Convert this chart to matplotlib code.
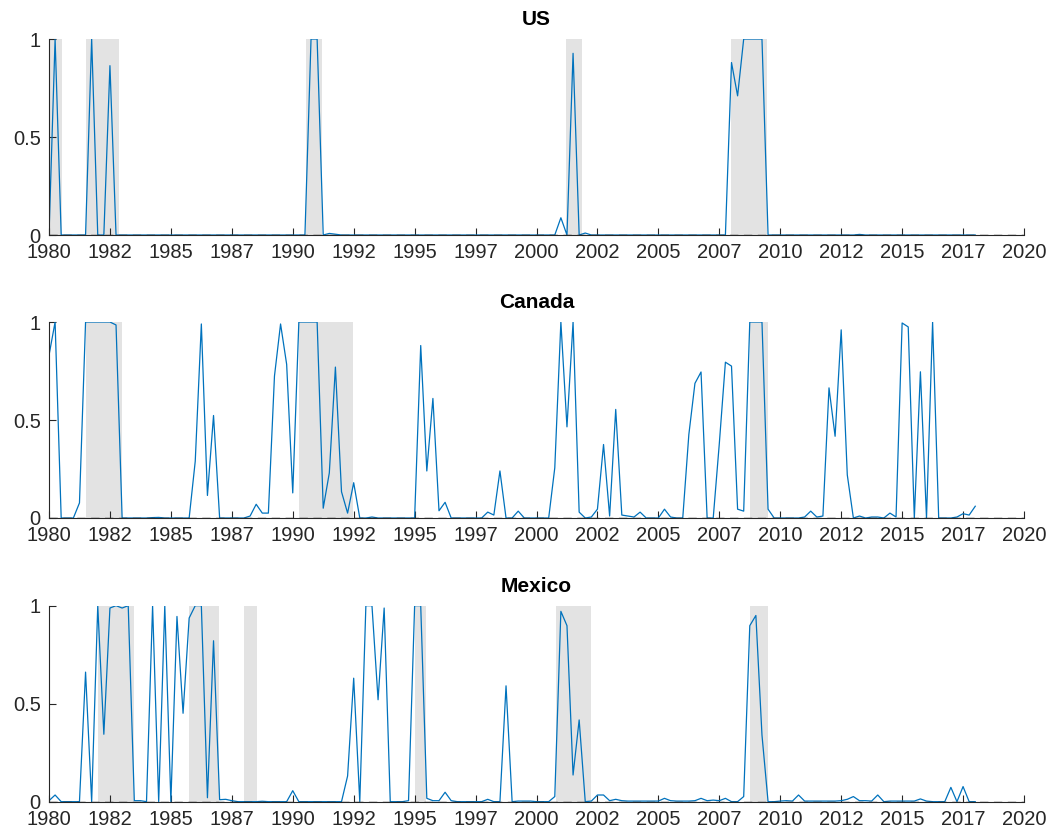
import numpy as np
import matplotlib
matplotlib.use('Agg')
import matplotlib.pyplot as plt

plt.rcParams['font.family'] = ['Liberation Sans', 'DejaVu Sans']

# quarterly probabilities, 1980Q1 .. 2018Q1
us = [0, 1.0, 0, 0, 0, 0, 0, 1.0, 0, 0,
      0.864, 0, 0, 0, 0, 0, 0, 0, 0, 0,
      0, 0, 0, 0, 0, 0, 0, 0, 0, 0,
      0, 0, 0, 0, 0, 0, 0, 0, 0, 0,
      0, 0, 0, 1.0, 1.0, 0, 0.008, 0.004, 0, 0,
      0, 0, 0, 0, 0, 0, 0, 0, 0, 0,
      0, 0, 0, 0, 0, 0, 0, 0, 0, 0,
      0, 0, 0, 0, 0, 0, 0, 0, 0, 0,
      0, 0, 0, 0, 0.088, 0, 0.927, 0, 0.01, 0,
      0, 0, 0, 0, 0, 0, 0, 0, 0, 0,
      0, 0, 0, 0, 0, 0, 0, 0, 0, 0,
      0, 0, 0.88, 0.71, 1.0, 1.0, 1.0, 1.0, 0, 0,
      0, 0, 0, 0, 0, 0, 0, 0, 0, 0,
      0, 0, 0, 0.003, 0, 0, 0, 0, 0, 0,
      0, 0, 0, 0, 0, 0, 0, 0, 0, 0,
      0, 0, 0]

canada = [0.83, 1.0, 0, 0, 0, 0.077, 1.0, 1.0, 1.0, 1.0,
          1.0, 0.985, 0, 0, 0, 0, 0, 0.002, 0.003, 0,
          0, 0, 0, 0, 0.29, 0.99, 0.115, 0.523, 0, 0,
          0, 0, 0, 0.01, 0.07, 0.025, 0.025, 0.724, 0.99, 0.784,
          0.128, 1.0, 1.0, 1.0, 1.0, 0.05, 0.23, 0.77, 0.134, 0.025,
          0.18, 0, 0, 0.005, 0, 0, 0, 0, 0, 0,
          0, 0.88, 0.24, 0.61, 0.037, 0.08, 0, 0, 0, 0,
          0, 0, 0.03, 0.015, 0.24, 0, 0, 0.035, 0, 0,
          0, 0, 0, 0.256, 1.0, 0.465, 1.0, 0.03, 0, 0.005,
          0.045, 0.375, 0.01, 0.554, 0.015, 0.01, 0.005, 0.03, 0, 0,
          0, 0.045, 0.005, 0, 0, 0.426, 0.687, 0.745, 0, 0,
          0.38, 0.795, 0.775, 0.045, 0.035, 1.0, 1.0, 1.0, 0.045, 0,
          0, 0, 0, 0, 0.005, 0.035, 0.005, 0.01, 0.664, 0.417,
          0.96, 0.22, 0, 0.01, 0, 0.005, 0.005, 0, 0.025, 0.005,
          0.995, 0.975, 0, 0.746, 0, 1.0, 0, 0, 0, 0.005,
          0.022, 0.015, 0.06]

mexico = [0.005, 0.034, 0, 0, 0, 0, 0.661, 0, 1.0, 0.344,
          0.988, 1.0, 0.988, 1.0, 0.005, 0.005, 0, 1.0, 0, 1.0,
          0, 0.945, 0.451, 0.937, 1.0, 1.0, 0.02, 0.821, 0.01, 0.012,
          0.005, 0, 0, 0, 0, 0.002, 0, 0, 0, 0,
          0.056, 0, 0, 0, 0, 0, 0, 0, 0, 0.131,
          0.63, 0, 1.0, 1.0, 0.52, 0.988, 0, 0, 0, 0.005,
          1.0, 1.0, 0.017, 0.005, 0.005, 0.048, 0.005, 0, 0, 0,
          0, 0, 0.012, 0, 0, 0.591, 0, 0.003, 0.003, 0.003,
          0, 0, 0, 0.026, 0.971, 0.898, 0.136, 0.417, 0, 0.003,
          0.034, 0.034, 0.005, 0.012, 0.005, 0.003, 0.003, 0.003, 0.003, 0.003,
          0.003, 0.017, 0.005, 0.003, 0.003, 0.003, 0.005, 0.017, 0.005, 0.008,
          0.005, 0.017, 0, 0, 0.026, 0.898, 0.95, 0.34, 0, 0,
          0.003, 0.005, 0.003, 0.034, 0.003, 0.003, 0.003, 0.003, 0.003, 0.003,
          0.005, 0.012, 0.026, 0.005, 0.005, 0.003, 0.034, 0, 0.003, 0.003,
          0.003, 0.003, 0.003, 0.014, 0.003, 0, 0, 0, 0.073, 0,
          0.077, 0, 0]

# recession periods (shaded)
us_rec = [(1980.0, 1980.52), (1981.52, 1982.87), (1990.54, 1991.19),
          (2001.21, 2001.87), (2007.98, 2009.44)]
canada_rec = [(1981.5, 1983.0), (1990.27, 1992.48), (2008.76, 2009.51)]
mexico_rec = [(1982.02, 1983.5), (1985.74, 1986.99), (1988.01, 1988.52),
              (1995.02, 1995.46), (2000.79, 2002.24), (2008.76, 2009.5)]

titles = ['US', 'Canada', 'Mexico']
xtick_pos = np.arange(1980, 2020.1, 2.5)
xtick_labels = ['1980', '1982', '1985', '1987', '1990', '1992', '1995', '1997', '2000',
                '2002', '2005', '2007', '2010', '2012', '2015', '2017', '2020']

t = 1980 + np.arange(len(us)) / 4.0

fig = plt.figure(figsize=(10.56, 8.39), dpi=100)
left, width, height = 0.0464, 0.9233, 0.2336
bottoms = [0.7199, 0.3826, 0.0445]

for series, rec, title, b in zip([us, canada, mexico], [us_rec, canada_rec, mexico_rec], titles, bottoms):
    ax = fig.add_axes([left, b, width, height])
    for s, e in rec:
        ax.axvspan(s, e, color='#e3e3e3', lw=0, zorder=0)
    ax.plot(t, series, color='#0072BD', lw=0.9, zorder=2)
    ax.plot([1980, 2020], [0, 0], color='#262626', lw=1.0, ls=(0, (6, 4)), zorder=3)
    ax.set_xlim(1980, 2020)
    ax.set_ylim(0, 1)
    ax.set_xticks(xtick_pos)
    ax.set_xticklabels(xtick_labels)
    ax.set_yticks([0, 0.5, 1])
    ax.set_yticklabels(['0', '0.5', '1'])
    ax.tick_params(direction='in', length=5, width=0.8, labelsize=14.5, colors='#262626')
    ax.tick_params(axis='x', pad=6)
    ax.tick_params(axis='y', pad=6)
    for sp in ['top', 'right']:
        ax.spines[sp].set_visible(False)
    for sp in ['left', 'bottom']:
        ax.spines[sp].set_color('#262626')
        ax.spines[sp].set_linewidth(0.8)
    ax.set_title(title, fontsize=15, fontweight='bold', pad=10)

fig.savefig('out.png', dpi=100)
